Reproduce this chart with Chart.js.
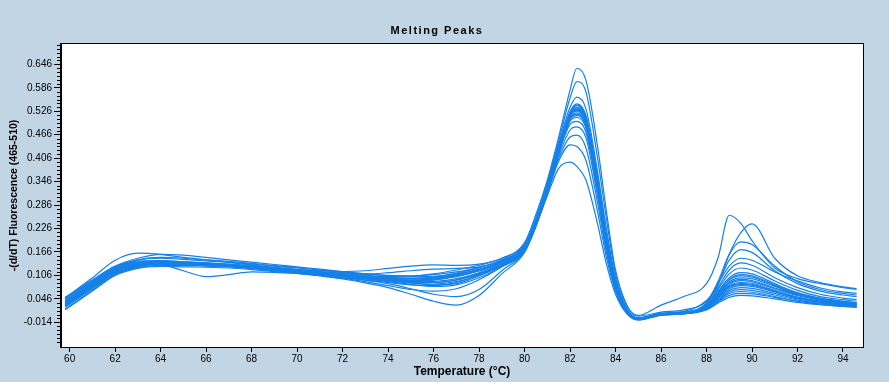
<!DOCTYPE html>
<html><head><meta charset="utf-8">
<script src="https://cdn.jsdelivr.net/npm/chart.js@4/dist/chart.umd.min.js"></script>
<style>html,body{margin:0;padding:0;background:#c2d5e5;}#wrap{width:889px;height:382px;position:relative;}</style>
</head><body><div id="wrap"><canvas id="c" width="889" height="382"></canvas></div>
<script>
const chartTitle = 'Melting Peaks';
const xAxisTitle = 'Temperature (°C)';
const yAxisTitle = '-(d/dT) Fluorescence (465-510)';
const xTickLabels = [60,62,64,66,68,70,72,74,76,78,80,82,84,86,88,90,92,94];
const yTickLabels = ['-0.014','0.046','0.106','0.166','0.226','0.286','0.346','0.406','0.466','0.526','0.586','0.646'];
const temperatures = [59.8,61,62,63,64,65,66,67,68,69,70,71,72,73,74,75,76,77,78,79,80,80.5,81,81.5,82,82.3,82.7,83.2,83.6,84,84.5,85,86,87,88,88.5,89,89.5,90,91,92,93,94,94.6];

const curve01 = [0.040,0.088,0.125,0.145,0.150,0.147,0.143,0.139,0.133,0.127,0.121,0.116,0.111,0.106,0.103,0.104,0.110,0.120,0.132,0.150, 0.190,0.262,0.350,0.460,0.580,0.636,0.605,0.440,0.270,0.120,0.030,0.002, 0.012,0.018,0.040,0.085,0.130,0.150,0.145,0.115,0.092,0.074,0.064,0.060];
const curve02 = [0.035,0.082,0.120,0.136,0.140,0.139,0.137,0.134,0.129,0.123,0.118,0.113,0.108,0.103,0.099,0.098,0.102,0.112,0.126,0.146, 0.185,0.255,0.345,0.450,0.560,0.602,0.575,0.410,0.250,0.110,0.028,0.004, 0.030,0.052,0.085,0.150,0.260,0.240,0.195,0.125,0.098,0.085,0.075,0.070];
const curve03 = [0.045,0.092,0.128,0.143,0.144,0.141,0.138,0.135,0.131,0.126,0.121,0.116,0.111,0.106,0.101,0.099,0.101,0.108,0.121,0.141, 0.182,0.248,0.338,0.442,0.536,0.562,0.532,0.375,0.225,0.100,0.022,-0.002, 0.010,0.014,0.042,0.080,0.160,0.215,0.238,0.150,0.105,0.088,0.077,0.072];
const curve04 = [0.030,0.078,0.115,0.132,0.138,0.137,0.135,0.132,0.127,0.121,0.116,0.111,0.106,0.101,0.096,0.093,0.095,0.103,0.118,0.140, 0.178,0.242,0.330,0.432,0.525,0.545,0.515,0.360,0.210,0.095,0.020,-0.003, 0.008,0.012,0.035,0.090,0.160,0.192,0.185,0.130,0.090,0.070,0.060,0.056];
const curve05 = [0.050,0.095,0.130,0.150,0.160,0.158,0.152,0.146,0.140,0.134,0.128,0.122,0.116,0.110,0.105,0.103,0.104,0.110,0.122,0.142, 0.180,0.245,0.333,0.435,0.522,0.540,0.510,0.355,0.205,0.090,0.018,-0.004, 0.008,0.012,0.035,0.085,0.145,0.172,0.165,0.118,0.085,0.066,0.056,0.052];
const curve06 = [0.025,0.072,0.110,0.128,0.134,0.133,0.131,0.129,0.124,0.119,0.114,0.109,0.104,0.099,0.093,0.088,0.088,0.095,0.112,0.135, 0.175,0.240,0.328,0.430,0.520,0.535,0.505,0.350,0.200,0.088,0.016,-0.005, 0.006,0.010,0.032,0.075,0.120,0.138,0.132,0.100,0.075,0.058,0.048,0.044];
const curve07 = [0.040,0.085,0.122,0.138,0.142,0.140,0.137,0.134,0.130,0.124,0.119,0.114,0.108,0.102,0.095,0.088,0.082,0.085,0.105,0.132, 0.172,0.238,0.326,0.428,0.516,0.530,0.500,0.345,0.196,0.085,0.015,-0.004, 0.007,0.010,0.030,0.070,0.110,0.125,0.120,0.092,0.068,0.052,0.044,0.040];
const curve08 = [0.020,0.068,0.108,0.126,0.132,0.132,0.130,0.128,0.124,0.119,0.114,0.109,0.103,0.097,0.090,0.083,0.078,0.082,0.100,0.128, 0.170,0.236,0.324,0.425,0.512,0.526,0.496,0.340,0.192,0.082,0.014,-0.005, 0.006,0.010,0.028,0.065,0.100,0.113,0.110,0.085,0.062,0.048,0.040,0.036];
const curve09 = [0.030,0.078,0.116,0.133,0.138,0.136,0.133,0.130,0.125,0.118,0.112,0.105,0.097,0.087,0.075,0.058,0.040,0.030,0.055,0.110, 0.165,0.232,0.320,0.420,0.508,0.522,0.492,0.336,0.188,0.080,0.012,-0.008, 0.005,0.008,0.026,0.060,0.094,0.105,0.102,0.080,0.058,0.045,0.038,0.034];
const curve10 = [0.042,0.088,0.124,0.140,0.144,0.141,0.138,0.134,0.128,0.122,0.116,0.109,0.102,0.094,0.085,0.072,0.058,0.052,0.070,0.118, 0.168,0.234,0.322,0.422,0.508,0.518,0.490,0.334,0.186,0.078,0.012,-0.006, 0.006,0.009,0.026,0.058,0.090,0.100,0.098,0.078,0.058,0.045,0.038,0.034];
const curve11 = [0.036,0.083,0.120,0.136,0.140,0.138,0.136,0.133,0.129,0.125,0.121,0.118,0.116,0.118,0.124,0.130,0.133,0.132,0.135,0.150, 0.185,0.245,0.330,0.430,0.505,0.515,0.488,0.332,0.184,0.078,0.012,-0.004, 0.007,0.010,0.025,0.055,0.084,0.093,0.090,0.072,0.054,0.043,0.036,0.032];
const curve12 = [0.028,0.075,0.113,0.130,0.135,0.134,0.132,0.130,0.126,0.120,0.114,0.107,0.099,0.090,0.080,0.070,0.066,0.072,0.095,0.128, 0.168,0.232,0.318,0.418,0.500,0.510,0.482,0.328,0.182,0.076,0.012,-0.006, 0.006,0.010,0.025,0.052,0.080,0.088,0.086,0.068,0.050,0.040,0.033,0.030];
const curve13 = [0.045,0.090,0.126,0.140,0.135,0.118,0.103,0.108,0.115,0.114,0.111,0.107,0.102,0.097,0.092,0.090,0.094,0.104,0.118,0.138, 0.176,0.240,0.325,0.420,0.492,0.500,0.472,0.322,0.178,0.074,0.011,-0.005, 0.007,0.010,0.024,0.050,0.076,0.083,0.081,0.066,0.050,0.040,0.034,0.031];
const curve14 = [0.048,0.100,0.145,0.163,0.160,0.152,0.146,0.140,0.135,0.130,0.125,0.120,0.115,0.110,0.106,0.105,0.108,0.115,0.126,0.145, 0.178,0.240,0.320,0.412,0.478,0.486,0.458,0.312,0.172,0.072,0.011,-0.004, 0.008,0.011,0.024,0.048,0.072,0.080,0.078,0.064,0.048,0.039,0.033,0.030];
const curve15 = [0.032,0.080,0.118,0.134,0.139,0.138,0.135,0.132,0.127,0.122,0.117,0.112,0.107,0.101,0.095,0.091,0.091,0.098,0.113,0.135, 0.172,0.236,0.318,0.405,0.460,0.465,0.432,0.295,0.165,0.070,0.010,-0.006, 0.006,0.009,0.022,0.045,0.068,0.075,0.073,0.060,0.046,0.037,0.031,0.028];
const curve16 = [0.038,0.085,0.120,0.136,0.141,0.139,0.136,0.133,0.128,0.123,0.118,0.112,0.106,0.100,0.094,0.089,0.088,0.094,0.110,0.133, 0.172,0.235,0.315,0.398,0.440,0.436,0.400,0.272,0.152,0.066,0.010,-0.006, 0.005,0.008,0.021,0.042,0.064,0.070,0.068,0.056,0.043,0.035,0.030,0.027];
const curve17 = [0.026,0.073,0.112,0.130,0.136,0.135,0.133,0.130,0.126,0.121,0.116,0.111,0.105,0.099,0.092,0.086,0.084,0.090,0.106,0.130, 0.170,0.232,0.310,0.380,0.396,0.385,0.350,0.240,0.135,0.058,0.008,-0.008, 0.004,0.008,0.020,0.040,0.060,0.065,0.063,0.052,0.040,0.032,0.027,0.025];
const curve18 = [0.034,0.080,0.117,0.133,0.137,0.135,0.132,0.129,0.125,0.120,0.115,0.110,0.105,0.100,0.096,0.094,0.097,0.106,0.120,0.140, 0.180,0.245,0.332,0.433,0.518,0.532,0.502,0.348,0.198,0.086,0.015,-0.004, 0.006,0.008,0.020,0.038,0.055,0.060,0.059,0.050,0.040,0.033,0.028,0.026];
const curve19 = [0.018,0.066,0.106,0.124,0.129,0.128,0.127,0.125,0.121,0.116,0.111,0.106,0.100,0.094,0.088,0.082,0.080,0.088,0.108,0.134, 0.176,0.242,0.330,0.432,0.520,0.536,0.508,0.355,0.205,0.092,0.018,-0.003, 0.007,0.010,0.024,0.050,0.077,0.085,0.083,0.066,0.050,0.040,0.034,0.031];
const curve20 = [0.048,0.092,0.128,0.146,0.152,0.150,0.146,0.142,0.137,0.131,0.126,0.120,0.113,0.106,0.100,0.097,0.099,0.107,0.120,0.142, 0.178,0.243,0.330,0.430,0.515,0.528,0.498,0.345,0.196,0.085,0.015,-0.004, 0.006,0.008,0.018,0.035,0.050,0.055,0.054,0.046,0.037,0.031,0.027,0.025];
const curve21 = [0.038,0.085,0.121,0.137,0.141,0.139,0.136,0.133,0.128,0.123,0.118,0.114,0.111,0.110,0.113,0.118,0.122,0.124,0.128,0.145, 0.180,0.243,0.330,0.432,0.515,0.530,0.500,0.345,0.196,0.085,0.015,-0.004, 0.006,0.009,0.025,0.055,0.086,0.096,0.093,0.074,0.056,0.044,0.037,0.033];
const curve22 = [0.030,0.077,0.115,0.132,0.137,0.136,0.134,0.131,0.127,0.122,0.117,0.112,0.107,0.102,0.097,0.094,0.096,0.104,0.118,0.140, 0.176,0.240,0.328,0.430,0.522,0.542,0.512,0.358,0.206,0.092,0.018,-0.003, 0.007,0.010,0.028,0.062,0.096,0.108,0.105,0.082,0.060,0.047,0.040,0.036];

const curves = [curve01,curve02,curve03,curve04,curve05,curve06,curve07,curve08,curve09,curve10,curve11,curve12,curve13,curve14,curve15,curve16,curve17,curve18,curve19,curve20,curve21,curve22];

const LINE = '#1580e8';
const FONT = "'Liberation Sans', Arial, sans-serif";

const datasets = curves.map((c, i) => ({
  label: 'Sample ' + (i + 1),
  data: temperatures.map((t, j) => ({x: t, y: c[j]})),
  borderColor: LINE,
  borderWidth: 1.2,
  pointRadius: 0,
  fill: false,
  cubicInterpolationMode: 'monotone'
}));

const framePlugin = {
  id: 'frame',
  beforeDraw(chart) {
    const {ctx, chartArea: a} = chart;
    ctx.save();
    ctx.fillStyle = '#c2d5e5';
    ctx.fillRect(0, 0, chart.width, chart.height);
    ctx.fillStyle = '#ffffff';
    ctx.fillRect(a.left, a.top, a.right - a.left, a.bottom - a.top);
    ctx.restore();
  },
  afterDraw(chart) {
    const {ctx, chartArea: a} = chart;
    ctx.save();
    ctx.strokeStyle = '#000';
    ctx.lineWidth = 1;
    ctx.strokeRect(Math.round(a.left) - 0.5, Math.round(a.top) - 0.5, Math.round(a.right - a.left) + 1, Math.round(a.bottom - a.top) + 1);
    // minor tick marks on the value axis
    const ys = chart.scales.y;
    ctx.beginPath();
    for (let k = -6; k <= 71; k++) {
      if (k % 6 === 0) continue;
      const v = -0.014 + 0.01 * k;
      if (v < ys.min || v > ys.max) continue;
      const py = Math.round(ys.getPixelForValue(v)) + 0.5;
      ctx.moveTo(a.left - 4, py);
      ctx.lineTo(a.left, py);
    }
    ctx.stroke();
    // title
    ctx.fillStyle = '#000';
    ctx.font = 'bold 11px ' + FONT;
    ctx.textAlign = 'center';
    ctx.textBaseline = 'middle';
    try { ctx.letterSpacing = '1.5px'; } catch (e) {}
    ctx.fillText(chartTitle, 437, 31);
    ctx.restore();
  }
};

new Chart(document.getElementById('c'), {
  type: 'line',
  data: {datasets},
  plugins: [framePlugin],
  options: {
    responsive: false,
    animation: false,
    events: [],
    layout: {padding: {top: 44, right: 26, left: 0, bottom: 0}},
    plugins: {legend: {display: false}, tooltip: {enabled: false}, title: {display: false}},
    scales: {
      x: {
        type: 'linear',
        min: 59.62,
        max: 94.88,
        afterFit(s) { s.height = 35; },
        afterBuildTicks(s) { s.ticks = xTickLabels.map(v => ({value: v})); },
        grid: {display: true, drawOnChartArea: false, drawTicks: true, tickLength: 5, color: '#000', tickColor: '#000'},
        border: {display: true, color: '#000'},
        ticks: {color: '#000', font: {family: FONT, size: 10}, padding: 1, maxRotation: 0, autoSkip: false, callback: v => String(v)},
        title: {display: true, text: xAxisTitle, color: '#000', font: {family: FONT, size: 12, weight: 'bold'}, padding: {top: 0, bottom: 3}}
      },
      y: {
        type: 'linear',
        min: -0.077,
        max: 0.698,
        afterFit(s) { s.width = 61; },
        afterBuildTicks(s) { s.ticks = yTickLabels.map(v => ({value: parseFloat(v)})); },
        grid: {display: true, drawOnChartArea: false, drawTicks: true, tickLength: 7, color: '#000', tickColor: '#000'},
        border: {display: true, color: '#000'},
        ticks: {color: '#000', font: {family: FONT, size: 10}, padding: 2, autoSkip: false, callback: v => v.toFixed(3)},
        title: {display: true, text: yAxisTitle, color: '#000', font: {family: FONT, size: 10.5, weight: 'bold'}, padding: {top: 8, bottom: 0}}
      }
    }
  }
});
</script></body></html>
